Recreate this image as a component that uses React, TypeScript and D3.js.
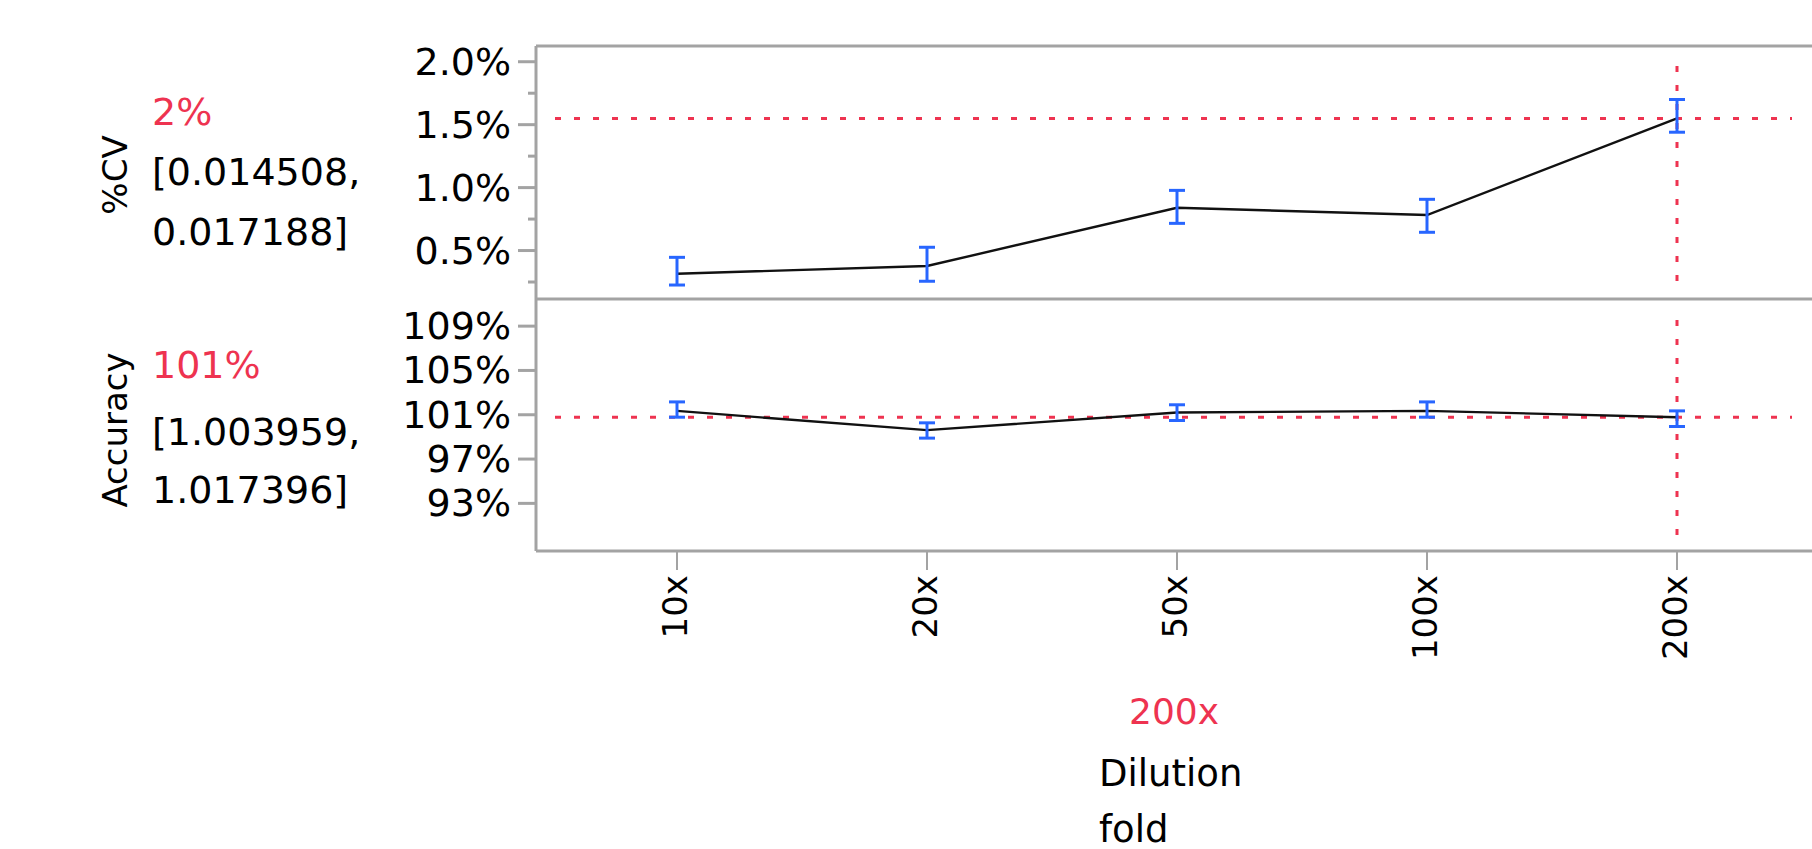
import { useEffect, useRef } from 'react'
import * as d3 from 'd3'

const dilutions = ['10x', '20x', '50x', '100x', '200x']
const cvMean = [0.316, 0.377, 0.84, 0.782, 1.55]
const cvLow = [0.226, 0.256, 0.716, 0.645, 1.44]
const cvHigh = [0.446, 0.526, 0.978, 0.907, 1.7]
const accMean = [101.35, 99.61, 101.2, 101.35, 100.78]
const accLow = [100.78, 98.89, 100.48, 100.78, 99.94]
const accHigh = [102.16, 100.27, 101.9, 102.16, 101.35]
const cvTicks = [0.5, 1.0, 1.5, 2.0]
const cvMinorTicks = [0.25, 0.75, 1.25, 1.75]
const accTicks = [93, 97, 101, 105, 109]
const selected = '200x'
const cvReadout = '2%'
const cvInterval = ['[0.014508,', '0.017188]']
const accReadout = '101%'
const accInterval = ['[1.003959,', '1.017396]']
const xTitle = ['Dilution', 'fold']

const W = 1812
const H = 849
const frame = '#a3a3a3'
const red = '#ee3350'
const blue = '#2866ff'
const font = '"DejaVu Sans", Verdana, sans-serif'

export default function App() {
  const svgRef = useRef(null)

  useEffect(() => {
    const svg = d3.select(svgRef.current)
    svg.selectAll('*').remove()

    const left = 536
    const right = W
    const top = 46
    const mid = 299
    const bottom = 551

    const x = d3.scalePoint().domain(dilutions).range([left, 1818]).padding(0.564)
    const cvY = d3.scaleLinear().domain([0.115, 2.125]).range([mid, top])
    const accY = d3.scaleLinear().domain([88.7, 111.45]).range([bottom, mid])

    const g = svg.append('g').style('font-family', font)

    // panel frame
    const lines = [
      [left, top, right, top],
      [left, mid, right, mid],
      [left, bottom, right, bottom],
      [left, top, left, bottom]
    ]
    g.selectAll('line.frame').data(lines).enter().append('line')
      .attr('x1', d => d[0]).attr('y1', d => d[1])
      .attr('x2', d => d[2]).attr('y2', d => d[3])
      .attr('stroke', frame).attr('stroke-width', 3)

    // y ticks, top panel
    g.selectAll('line.cvtick').data(cvTicks).enter().append('line')
      .attr('x1', left - 18).attr('x2', left)
      .attr('y1', d => cvY(d)).attr('y2', d => cvY(d))
      .attr('stroke', frame).attr('stroke-width', 3)
    g.selectAll('line.cvminor').data(cvMinorTicks).enter().append('line')
      .attr('x1', left - 8).attr('x2', left)
      .attr('y1', d => cvY(d)).attr('y2', d => cvY(d))
      .attr('stroke', frame).attr('stroke-width', 3)
    g.selectAll('text.cvlab').data(cvTicks).enter().append('text')
      .attr('x', 511).attr('y', d => cvY(d) + 13)
      .attr('text-anchor', 'end').attr('font-size', 38)
      .text(d => d.toFixed(1) + '%')

    // y ticks, bottom panel
    g.selectAll('line.acctick').data(accTicks).enter().append('line')
      .attr('x1', left - 18).attr('x2', left)
      .attr('y1', d => accY(d)).attr('y2', d => accY(d))
      .attr('stroke', frame).attr('stroke-width', 3)
    g.selectAll('text.acclab').data(accTicks).enter().append('text')
      .attr('x', 511).attr('y', d => accY(d) + 13)
      .attr('text-anchor', 'end').attr('font-size', 38)
      .text(d => d + '%')

    // x ticks
    g.selectAll('line.xtick').data(dilutions).enter().append('line')
      .attr('x1', d => x(d)).attr('x2', d => x(d))
      .attr('y1', bottom).attr('y2', bottom + 19)
      .attr('stroke', frame).attr('stroke-width', 2)
    g.selectAll('text.xlab').data(dilutions).enter().append('text')
      .attr('transform', d => `translate(${x(d) + 10}, 575) rotate(-90)`)
      .attr('text-anchor', 'end').attr('font-size', 34)
      .text(d => d)

    // reference lines through the selected level
    const si = dilutions.indexOf(selected)
    const sx = x(selected)
    const refs = [
      [left + 19, cvY(cvMean[si]), right - 20, cvY(cvMean[si])],
      [left + 19, accY(accMean[si]), right - 20, accY(accMean[si])],
      [sx, top + 20, sx, mid - 14],
      [sx, mid + 21, sx, bottom - 16]
    ]
    g.selectAll('line.ref').data(refs).enter().append('line')
      .attr('x1', d => d[0]).attr('y1', d => d[1])
      .attr('x2', d => d[2]).attr('y2', d => d[3])
      .attr('stroke', red).attr('stroke-width', 3)
      .attr('stroke-dasharray', '6 13')

    const panels = [
      { y: cvY, mean: cvMean, low: cvLow, high: cvHigh },
      { y: accY, mean: accMean, low: accLow, high: accHigh }
    ]
    panels.forEach(p => {
      const line = d3.line()
        .x((d, i) => x(dilutions[i]))
        .y(d => p.y(d))
      g.append('path')
        .attr('d', line(p.mean))
        .attr('fill', 'none').attr('stroke', '#111').attr('stroke-width', 2.4)

      const bars = g.append('g')
        .selectAll('g').data(dilutions).enter().append('g')
        .attr('stroke', blue).attr('stroke-width', 3)
      bars.append('line')
        .attr('x1', d => x(d)).attr('x2', d => x(d))
        .attr('y1', (d, i) => p.y(p.low[i])).attr('y2', (d, i) => p.y(p.high[i]))
      bars.append('line')
        .attr('x1', d => x(d) - 8).attr('x2', d => x(d) + 8)
        .attr('y1', (d, i) => p.y(p.low[i])).attr('y2', (d, i) => p.y(p.low[i]))
      bars.append('line')
        .attr('x1', d => x(d) - 8).attr('x2', d => x(d) + 8)
        .attr('y1', (d, i) => p.y(p.high[i])).attr('y2', (d, i) => p.y(p.high[i]))
    })

    // response titles and readouts
    g.append('text')
      .attr('transform', 'translate(127, 175) rotate(-90)')
      .attr('text-anchor', 'middle').attr('font-size', 34)
      .text('%CV')
    g.append('text')
      .attr('transform', 'translate(127, 430) rotate(-90)')
      .attr('text-anchor', 'middle').attr('font-size', 34)
      .text('Accuracy')

    g.append('text').attr('x', 152).attr('y', 125)
      .attr('font-size', 38).attr('fill', red).text(cvReadout)
    g.append('text').attr('x', 152).attr('y', 185)
      .attr('font-size', 38).text(cvInterval[0])
    g.append('text').attr('x', 152).attr('y', 245)
      .attr('font-size', 38).text(cvInterval[1])

    g.append('text').attr('x', 152).attr('y', 378)
      .attr('font-size', 38).attr('fill', red).text(accReadout)
    g.append('text').attr('x', 152).attr('y', 445)
      .attr('font-size', 38).text(accInterval[0])
    g.append('text').attr('x', 152).attr('y', 503)
      .attr('font-size', 38).text(accInterval[1])

    // x readout and title
    g.append('text').attr('x', 1174).attr('y', 724)
      .attr('text-anchor', 'middle').attr('font-size', 36).attr('fill', red)
      .text(selected)
    g.selectAll('text.xtitle').data(xTitle).enter().append('text')
      .attr('x', 1099).attr('y', (d, i) => 786 + i * 56)
      .attr('font-size', 37)
      .text(d => d)
  }, [])

  return (
    <svg
      ref={ svgRef }
      width={ W }
      height={ H }
      style={ { position: 'absolute', left: 0, top: 0, background: '#fff' } }
    />
  )
}
